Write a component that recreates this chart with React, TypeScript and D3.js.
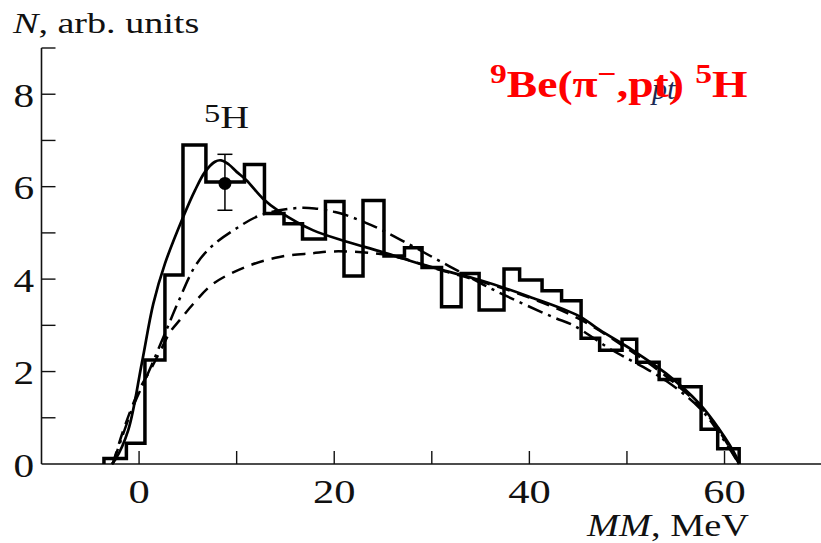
import React from "react";
import * as d3 from "d3";

// Histogram (bin edges in MeV, counts in arb. units)
const binEdges = [-3.6, -1.3, 0.6, 2.65, 4.5, 6.85, 8.8, 10.8, 12.85, 14.85, 16.75, 19.1, 21.0, 22.95, 25.1, 27.2, 29.0, 31.0, 33.0, 34.85, 37.4, 39.0, 41.3, 43.3, 45.3, 47.2, 49.5, 51.0, 53.3, 55.4, 57.6, 59.3, 61.5];
const binValues = [0.12, 0.45, 2.25, 4.09, 6.9, 6.1, 6.1, 6.48, 5.42, 5.2, 4.87, 5.68, 4.07, 5.7, 4.5, 4.68, 4.25, 3.4, 4.12, 3.33, 4.22, 3.98, 3.75, 3.53, 2.72, 2.46, 2.7, 2.2, 1.83, 1.67, 0.75, 0.33];

// Fit curves [MM, N]
const solidCurve: [number, number][] = [[-2.8, 0], [-2.45, 0.09], [-1.1, 0.74], [0.28, 2.18], [1.46, 3.47], [2.66, 4.34], [4.53, 5.35], [5.73, 5.92], [6.76, 6.32], [7.78, 6.54], [8.4, 6.57], [9.2, 6.48], [10, 6.32], [11, 6.14], [12.7, 5.74], [14.4, 5.46], [17.8, 5.06], [21.3, 4.81], [24.7, 4.6], [28, 4.38], [31, 4.2], [34.9, 3.98], [40, 3.62], [45.1, 3.2], [47.2, 2.9], [50.6, 2.46], [54, 1.96], [57.4, 1.31], [59.5, 0.74], [61.2, 0.16], [61.5, 0]];
const dashDotCurve: [number, number][] = [[-2.7, 0], [-1.8, 0.55], [-0.5, 1.3], [1.0, 2.0], [2.9, 2.95], [4.0, 3.5], [5.8, 4.3], [7.5, 4.72], [10, 5.1], [12.4, 5.38], [15.8, 5.53], [18, 5.53], [19.9, 5.46], [20.7, 5.42], [23.8, 5.17], [26.9, 4.84], [30.3, 4.45], [33.2, 4.12], [36.5, 3.75], [42.4, 3.18], [44.5, 3.0], [48.5, 2.46], [50.6, 2.22], [54, 1.8], [57.5, 1.2], [59.5, 0.65], [61.5, 0]];
const dashedCurve: [number, number][] = [[-2.7, 0], [-1.5, 0.8], [0, 1.6], [1.2, 2.05], [2.3, 2.5], [3.2, 2.86], [4.2, 3.12], [5.5, 3.45], [7.6, 3.9], [11, 4.27], [14.4, 4.48], [17.8, 4.56], [20, 4.6], [24, 4.56], [27, 4.45], [30, 4.25], [35, 3.95], [40, 3.6], [45, 3.15], [50, 2.5], [54, 1.9], [57.5, 1.25], [59.5, 0.7], [61.5, 0]];

// 5H data point with error bar
const pointX = [8.8];
const pointY = [6.07];
const pointErrLo = [5.49];
const pointErrHi = [6.7];

const xMajorTicks = [0, 20, 40, 60];
const xMinorTicks = [10, 30, 50];
const yMajorTicks = [2, 4, 6, 8];
const yMinorTicks = [1, 3, 5, 7, 9];
const yLabels = [0, 2, 4, 6, 8];

const W = 821;
const H = 543;

export default function App() {
  const x = d3.scaleLinear().domain([-10, 70]).range([41.5, 822.1]);
  const y = d3.scaleLinear().domain([0, 9]).range([464, 48]);

  const histPts: [number, number][] = [[binEdges[0], 0]];
  binValues.forEach((v, i) => {
    histPts.push([binEdges[i], v]);
    histPts.push([binEdges[i + 1], v]);
  });
  histPts.push([binEdges[binEdges.length - 1], 0]);

  const lin = d3.line<[number, number]>().x((d) => x(d[0])).y((d) => y(d[1]));
  const smooth = d3
    .line<[number, number]>()
    .x((d) => x(d[0]))
    .y((d) => y(d[1]))
    .curve(d3.curveCatmullRom.alpha(0.5));

  const font = "'Liberation Serif', 'Times New Roman', serif";
  const ink = "#111";
  const x0 = x(-10);
  const yBase = y(0);

  return (
    <svg width={W} height={H} style={{ position: "absolute", left: 0, top: 0, background: "#fff" }} fontFamily={font}>
      <rect x={0} y={0} width={W} height={H} fill="#fff" />
      {/* axes */}
      <line x1={x0} x2={W} y1={yBase} y2={yBase} stroke={ink} strokeWidth={1.6} />
      <line x1={x0} x2={x0} y1={y(9)} y2={yBase} stroke={ink} strokeWidth={1.6} />
      {[...xMajorTicks, ...xMinorTicks].map((t) => (
        <line key={"xt" + t} x1={x(t)} x2={x(t)} y1={yBase} y2={yBase - 13} stroke={ink} strokeWidth={1.4} />
      ))}
      {[...yMajorTicks, ...yMinorTicks].map((t) => (
        <line key={"yt" + t} x1={x0} x2={x0 + 14} y1={y(t)} y2={y(t)} stroke={ink} strokeWidth={1.4} />
      ))}
      {xMajorTicks.map((t) => (
        <g key={"xl" + t} transform={`translate(${x(t)},503) scale(1.25,1)`}>
          <text textAnchor="middle" fontSize={34} fill={ink}>{t}</text>
        </g>
      ))}
      {yLabels.map((t) => (
        <g key={"yl" + t} transform={`translate(34,${y(t) + 12.5}) scale(1.25,1)`}>
          <text textAnchor="end" fontSize={33} fill={ink}>{t}</text>
        </g>
      ))}
      {/* axis titles */}
      <g transform="translate(13,33) scale(1.27,1)">
        <text fontSize={30} fill={ink}>
          <tspan fontStyle="italic">N</tspan>, arb. units
        </text>
      </g>
      <g transform="translate(587,535.5) scale(1.2,1)">
        <text fontSize={32} fill={ink}>
          <tspan fontStyle="italic">MM</tspan>, MeV
        </text>
      </g>

      {/* curves */}
      <path d={smooth(dashedCurve) || ""} fill="none" stroke="#000" strokeWidth={2.5} strokeDasharray="13 8" />
      <path d={smooth(dashDotCurve) || ""} fill="none" stroke="#000" strokeWidth={2.5} strokeDasharray="16 6 3 6" />
      <path d={smooth(solidCurve) || ""} fill="none" stroke="#000" strokeWidth={2.7} />

      {/* histogram */}
      <path d={lin(histPts) || ""} fill="none" stroke="#000" strokeWidth={3.5} strokeLinejoin="miter" />

      {/* 5H point */}
      {pointX.map((px, i) => (
        <g key={"pt" + i}>
          <line x1={x(px)} x2={x(px)} y1={y(pointErrHi[i])} y2={y(pointErrLo[i])} stroke="#000" strokeWidth={1.5} />
          <line x1={x(px) - 7.5} x2={x(px) + 7.5} y1={y(pointErrHi[i])} y2={y(pointErrHi[i])} stroke="#000" strokeWidth={1.5} />
          <line x1={x(px) - 7.5} x2={x(px) + 7.5} y1={y(pointErrLo[i])} y2={y(pointErrLo[i])} stroke="#000" strokeWidth={1.5} />
          <circle cx={x(px)} cy={y(pointY[i])} r={6.5} fill="#000" />
        </g>
      ))}

      {/* 5H label */}
      <g transform="translate(204,128) scale(1.25,1)">
        <text fontSize={32} fill={ink}>
          <tspan fontSize={26} dy={-6}>5</tspan>
          <tspan dy={6}>H</tspan>
        </text>
      </g>

      {/* original italic pt under red overlay */}
      <text x={652} y={99} fontSize={30} fontStyle="italic" fill="#1c2a55">pt</text>

      {/* red title */}
      <g transform="translate(490,97) scale(1.2,1)">
        <text fontSize={38} fontWeight="bold" fill="#ff0000">
          <tspan fontSize={28} dy={-14}>9</tspan>
          <tspan dy={14}>Be(π</tspan>
          <tspan fontSize={28} dy={-14}>−</tspan>
          <tspan dy={14}>,pt) </tspan>
          <tspan fontSize={28} dy={-14}>5</tspan>
          <tspan dy={14}>H</tspan>
        </text>
      </g>
    </svg>
  );
}
